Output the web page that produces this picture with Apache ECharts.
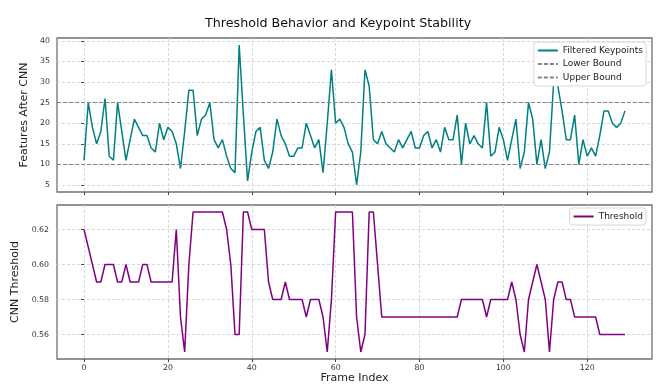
<!DOCTYPE html>
<html>
<head>
<meta charset="utf-8">
<script src="https://cdn.jsdelivr.net/npm/echarts@6/dist/echarts.min.js"></script>
<style>
html, body { margin: 0; padding: 0; background: #fff; }
#chart { width: 659px; height: 386px; }
</style>
</head>
<body>
<div id="chart"></div>
<script>
// keypoints after the CNN filter, one per frame
var keypoints = [
  11, 25, 19, 15, 18, 26, 12, 11, 25, 18,
  11, 16, 21, 19, 17, 17, 14, 13, 20, 16,
  19, 18, 15, 9, 18, 28, 28, 17, 21, 22,
  25, 16, 14, 16, 12, 9, 8, 39, 22, 6,
  13, 18, 19, 11, 9, 13, 21, 17, 15, 12,
  12, 14, 14, 20, 17, 14, 16, 8, 20, 33,
  20, 21, 19, 15, 13, 5, 13, 33, 29, 16,
  15, 18, 15, 14, 13, 16, 14, 16, 18, 14,
  14, 17, 18, 14, 16, 13, 19, 16, 16, 22,
  10, 20, 15, 17, 15, 14, 25, 12, 13, 19,
  16, 11, 16, 21, 9, 13, 25, 21, 10, 16,
  9, 13, 30, 29, 23, 16, 16, 22, 10, 16,
  12, 14, 12, 17, 23, 23, 20, 19, 20, 23
];

// CNN threshold per frame
var threshold = [
  0.62, 0.61, 0.60, 0.59, 0.59, 0.60, 0.60, 0.60, 0.59, 0.59,
  0.60, 0.59, 0.59, 0.59, 0.60, 0.60, 0.59, 0.59, 0.59, 0.59,
  0.59, 0.59, 0.62, 0.57, 0.55, 0.60, 0.63, 0.63, 0.63, 0.63,
  0.63, 0.63, 0.63, 0.63, 0.62, 0.60, 0.56, 0.56, 0.63, 0.63,
  0.62, 0.62, 0.62, 0.62, 0.59, 0.58, 0.58, 0.58, 0.59, 0.58,
  0.58, 0.58, 0.58, 0.57, 0.58, 0.58, 0.58, 0.57, 0.55, 0.58,
  0.63, 0.63, 0.63, 0.63, 0.63, 0.57, 0.55, 0.56, 0.63, 0.63,
  0.60, 0.57, 0.57, 0.57, 0.57, 0.57, 0.57, 0.57, 0.57, 0.57,
  0.57, 0.57, 0.57, 0.57, 0.57, 0.57, 0.57, 0.57, 0.57, 0.57,
  0.58, 0.58, 0.58, 0.58, 0.58, 0.58, 0.57, 0.58, 0.58, 0.58,
  0.58, 0.58, 0.59, 0.58, 0.56, 0.55, 0.58, 0.59, 0.60, 0.59,
  0.58, 0.55, 0.58, 0.59, 0.59, 0.58, 0.58, 0.57, 0.57, 0.57,
  0.57, 0.57, 0.57, 0.56, 0.56, 0.56, 0.56, 0.56, 0.56, 0.56
];

var lowerBound = 10;
var upperBound = 25;

var xTicks = [0, 20, 40, 60, 80, 100, 120];
var yTicksTop = [5, 10, 15, 20, 25, 30, 35, 40];
var yTicksBottom = [0.56, 0.58, 0.60, 0.62];

var font = 'DejaVu Sans';
var gridLine = { show: true, lineStyle: { color: '#d8d8d8', type: [3, 2], width: 1 } };
var tickStyle = { color: '#444', width: 1 };

function pairs(values) {
  return values.map(function (v, i) { return [i, v]; });
}

function xAxisFor(idx, showLabels) {
  return {
    type: 'value', gridIndex: idx, min: -6.45, max: 135.45,
    axisLine: { show: false },
    axisTick: { show: true, length: 3, customValues: xTicks, lineStyle: tickStyle },
    axisLabel: { show: showLabels, customValues: xTicks, fontSize: 7.8, color: '#333', fontFamily: font, margin: 5 },
    splitLine: gridLine,
    name: showLabels ? 'Frame Index' : '',
    nameLocation: 'middle', nameGap: 14,
    nameTextStyle: { fontSize: 11, color: '#222', fontFamily: font }
  };
}

var legendBase = {
  orient: 'vertical', right: 13,
  backgroundColor: '#fff', borderColor: '#d8d8d8', borderWidth: 1, borderRadius: 3,
  padding: [4, 3, 4, 3], itemWidth: 20, itemHeight: 9, itemGap: 4.5,
  itemStyle: { opacity: 0 },
  textStyle: { fontSize: 9, color: '#222', fontFamily: font }
};

var chart = echarts.init(document.getElementById('chart'));

var option = {
  animation: false,
  backgroundColor: '#fff',
  title: {
    text: 'Threshold Behavior and Keypoint Stability',
    left: 200, top: 12,
    textStyle: { fontSize: 12.7, fontWeight: 'normal', color: '#111', fontFamily: font }
  },
  grid: [
    { left: 57, right: 7, top: 38, height: 154, show: true, borderColor: '#707070', borderWidth: 1.3, backgroundColor: 'transparent' },
    { left: 57, right: 7, top: 205, height: 154, show: true, borderColor: '#707070', borderWidth: 1.3, backgroundColor: 'transparent' }
  ],
  legend: [
    Object.assign({}, legendBase, { data: ['Filtered Keypoints', 'Lower Bound', 'Upper Bound'], top: 42 }),
    Object.assign({}, legendBase, { data: ['Threshold'], top: 208 })
  ],
  xAxis: [xAxisFor(0, false), xAxisFor(1, true)],
  yAxis: [
    {
      type: 'value', gridIndex: 0, min: 3.3, max: 40.7,
      axisLine: { show: false },
      axisTick: { show: true, length: 3, customValues: yTicksTop, lineStyle: tickStyle },
      axisLabel: { customValues: yTicksTop, fontSize: 7.8, color: '#333', fontFamily: font, margin: 7 },
      splitLine: gridLine,
      name: 'Features After CNN', nameLocation: 'middle', nameGap: 22,
      nameTextStyle: { fontSize: 11, color: '#222', fontFamily: font }
    },
    {
      type: 'value', gridIndex: 1, min: 0.546, max: 0.634,
      axisLine: { show: false },
      axisTick: { show: true, length: 3, customValues: yTicksBottom, lineStyle: tickStyle },
      axisLabel: {
        customValues: yTicksBottom, fontSize: 7.8, color: '#333', fontFamily: font, margin: 8,
        formatter: function (v) { return v.toFixed(2); }
      },
      splitLine: gridLine,
      name: 'CNN Threshold', nameLocation: 'middle', nameGap: 31,
      nameTextStyle: { fontSize: 11, color: '#222', fontFamily: font }
    }
  ],
  series: [
    {
      name: 'Filtered Keypoints', type: 'line', xAxisIndex: 0, yAxisIndex: 0,
      data: pairs(keypoints), symbol: 'none',
      lineStyle: { color: '#008080', width: 1.5 }, itemStyle: { color: '#008080' }, z: 3
    },
    {
      name: 'Lower Bound', type: 'line', xAxisIndex: 0, yAxisIndex: 0, data: [], symbol: 'none',
      lineStyle: { color: '#858585', width: 1.1, type: [4, 2] }, itemStyle: { color: '#858585' },
      markLine: {
        silent: true, symbol: 'none', label: { show: false },
        lineStyle: { color: '#858585', width: 1.1, type: [4, 2] },
        data: [{ yAxis: lowerBound }]
      }
    },
    {
      name: 'Upper Bound', type: 'line', xAxisIndex: 0, yAxisIndex: 0, data: [], symbol: 'none',
      lineStyle: { color: '#858585', width: 1.1, type: [4, 2] }, itemStyle: { color: '#858585' },
      markLine: {
        silent: true, symbol: 'none', label: { show: false },
        lineStyle: { color: '#858585', width: 1.1, type: [4, 2] },
        data: [{ yAxis: upperBound }]
      }
    },
    {
      name: 'Threshold', type: 'line', xAxisIndex: 1, yAxisIndex: 1,
      data: pairs(threshold), symbol: 'none',
      lineStyle: { color: '#800080', width: 1.5 }, itemStyle: { color: '#800080' }, z: 3
    }
  ]
};

chart.setOption(option);
</script>
</body>
</html>
